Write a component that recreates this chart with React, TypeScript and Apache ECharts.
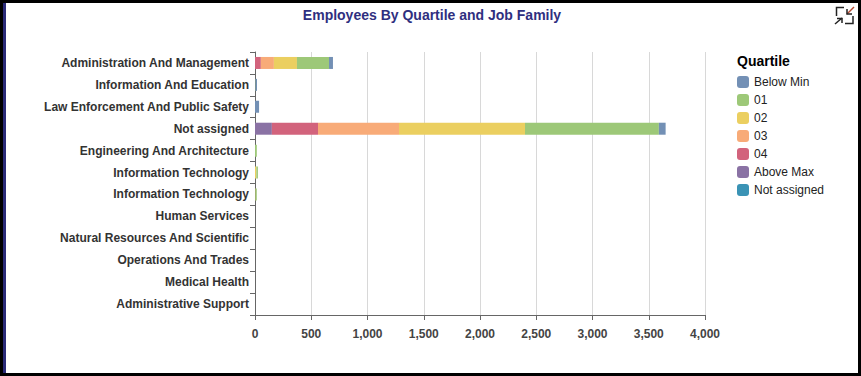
import React, { useEffect, useRef } from "react";
import * as echarts from "echarts";

const categories = [
  "Administration And Management",
  "Information And Education",
  "Law Enforcement And Public Safety",
  "Not assigned",
  "Engineering And Architecture",
  "Information Technology",
  "Information Technology",
  "Human Services",
  "Natural Resources And Scientific",
  "Operations And Trades",
  "Medical Health",
  "Administrative Support",
];
const legendOrder = ["Below Min", "01", "02", "03", "04", "Above Max", "Not assigned"];
const colors: Record<string, string> = {
  "Below Min": "#7390b5",
  "01": "#9dc878",
  "02": "#ebcf60",
  "03": "#f8ab78",
  "04": "#d2637c",
  "Above Max": "#8a72a4",
  "Not assigned": "#3a93b5",
};
const notAssignedVals = [0, 0, 0, 0, 0, 0, 0, 0, 0, 0, 0, 0];
const aboveMaxVals = [0, 0, 0, 150, 0, 0, 0, 0, 0, 0, 0, 0];
const q4Vals = [52, 0, 0, 410, 0, 0, 0, 0, 0, 0, 0, 0];
const q3Vals = [116, 0, 0, 720, 0, 0, 0, 0, 0, 0, 0, 0];
const q2Vals = [205, 0, 0, 1120, 0, 12, 4, 0, 0, 0, 0, 0];
const q1Vals = [285, 4, 0, 1190, 16, 14, 12, 0, 0, 0, 0, 0];
const belowMinVals = [35, 14, 36, 60, 0, 0, 0, 0, 0, 0, 0, 0];
const stackOrder: [string, number[]][] = [
  ["Not assigned", notAssignedVals],
  ["Above Max", aboveMaxVals],
  ["04", q4Vals],
  ["03", q3Vals],
  ["02", q2Vals],
  ["01", q1Vals],
  ["Below Min", belowMinVals],
];

const FONT = "'Liberation Sans', Arial, sans-serif";

export default function App() {
  const ref = useRef<HTMLDivElement>(null);
  useEffect(() => {
    const chart = echarts.init(ref.current!, undefined, { renderer: "svg" });
    const icon = { stroke: "#222", fill: "none", lineWidth: 1.5 };
    chart.setOption({
      animation: false,
      backgroundColor: "#fff",
      textStyle: { fontFamily: FONT },
      title: {
        text: "Employees By Quartile and Job Family",
        left: 427,
        textAlign: "center",
        top: 3,
        textStyle: { fontFamily: FONT, fontSize: 14, fontWeight: "bold", color: "#2f2f7f" },
      },
      grid: { left: 255, top: 52, width: 450, height: 263, containLabel: false },
      xAxis: {
        type: "value",
        min: 0,
        max: 4000,
        interval: 500,
        axisLine: { show: true, lineStyle: { color: "#666" } },
        axisTick: { show: true, length: 5, lineStyle: { color: "#666" } },
        axisLabel: {
          fontFamily: FONT,
          fontSize: 12,
          fontWeight: "bold",
          color: "#444",
          margin: 13,
          formatter: (v: number) => v.toLocaleString("en-US"),
        },
        splitLine: { show: true, lineStyle: { color: "#d8d8d8" } },
      },
      yAxis: {
        type: "category",
        inverse: true,
        data: categories,
        axisLine: { show: true, lineStyle: { color: "#666" } },
        axisTick: { show: true, length: 5, lineStyle: { color: "#666" } },
        axisLabel: { fontFamily: FONT, fontSize: 12, fontWeight: "bold", color: "#333", margin: 6, interval: 0 },
        splitLine: { show: false },
      },
      legend: {
        orient: "vertical",
        left: 732,
        top: 71,
        itemWidth: 12,
        itemHeight: 12,
        itemGap: 6,
        icon: "roundRect",
        data: legendOrder,
        selectedMode: false,
        textStyle: { fontFamily: FONT, fontSize: 12, color: "#222" },
      },
      series: stackOrder.map(([name, values]) => ({
        name,
        type: "bar",
        stack: "total",
        barWidth: 12,
        data: values,
        itemStyle: { color: colors[name] },
      })),
      graphic: [
        { type: "rect", silent: true, z: 10, shape: { x: 0, y: 0, width: 861, height: 3 }, style: { fill: "#000" } },
        { type: "rect", silent: true, z: 10, shape: { x: 0, y: 373, width: 861, height: 3 }, style: { fill: "#000" } },
        { type: "rect", silent: true, z: 10, shape: { x: 858, y: 0, width: 3, height: 376 }, style: { fill: "#000" } },
        { type: "rect", silent: true, z: 10, shape: { x: 0, y: 0, width: 3, height: 376 }, style: { fill: "#000" } },
        { type: "rect", silent: true, z: 10, shape: { x: 3, y: 3, width: 3, height: 370 }, style: { fill: "#2b2b78" } },
        { type: "text", x: 737, y: 54, style: { text: "Quartile", fontFamily: FONT, fontSize: 14, fontWeight: "bold", fill: "#000" } },
        { type: "polyline", shape: { points: [[836.5, 16], [836.5, 7.5], [844, 7.5]] }, style: icon },
        { type: "polyline", shape: { points: [[853, 16], [853, 23.5], [845, 23.5]] }, style: icon },
        { type: "line", shape: { x1: 854, y1: 7, x2: 847, y2: 14 }, style: { stroke: "#b5482f", lineWidth: 1.5 } },
        { type: "polyline", shape: { points: [[847, 9], [847, 14], [852, 14]] }, style: icon },
        { type: "line", shape: { x1: 835, y1: 24, x2: 842, y2: 18 }, style: icon },
        { type: "polyline", shape: { points: [[837, 18.5], [842, 18.5], [842, 23]] }, style: icon },
      ],
    });
    return () => chart.dispose();
  }, []);
  return (
    <div style={{ position: "fixed", left: 0, top: 0, width: 861, height: 376 }}>
      <div ref={ref} style={{ width: 861, height: 376 }} />
    </div>
  );
}
